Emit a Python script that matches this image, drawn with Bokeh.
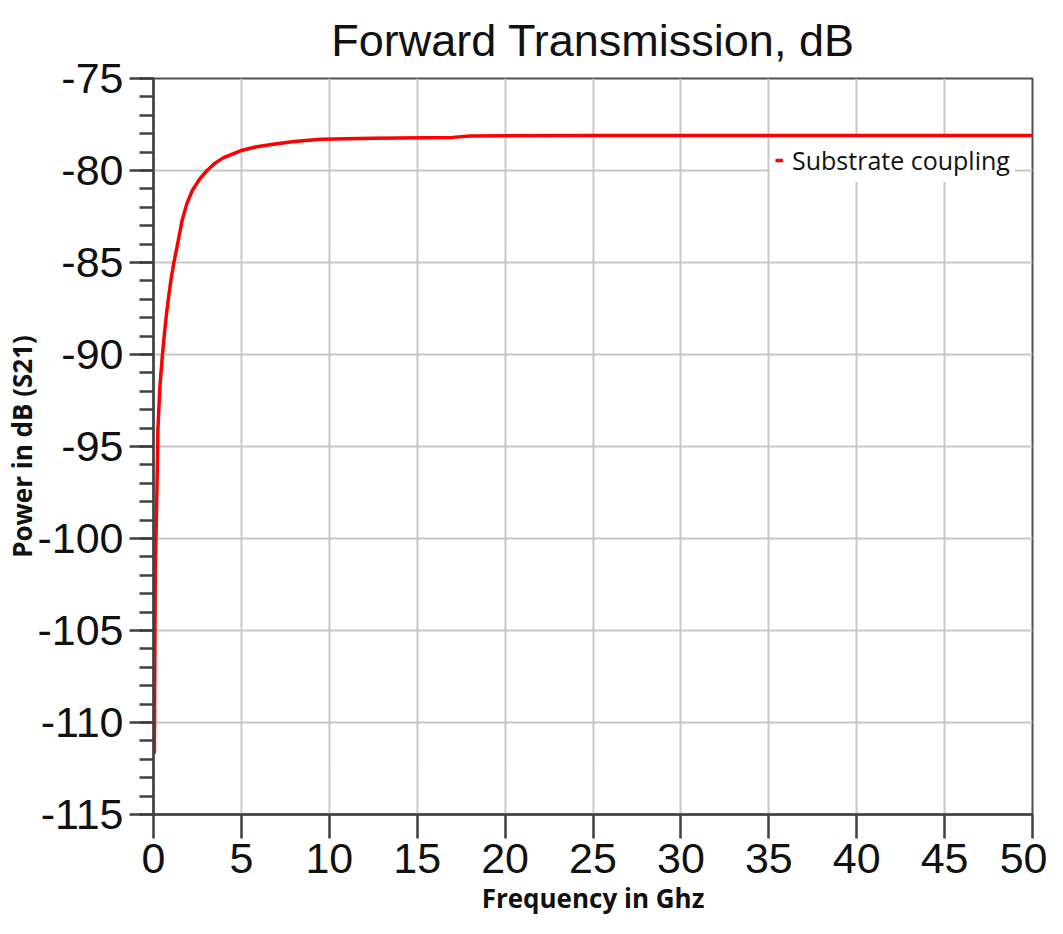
from bokeh.plotting import figure
from bokeh.models import Range1d, SingleIntervalTicker, Legend, LegendItem, PrintfTickFormatter
from bokeh.embed import file_html
from bokeh.resources import INLINE

# Data
freq_ghz = [0.05, 0.1, 0.2, 0.25, 0.36, 0.51, 0.63, 0.75, 0.87, 1.0, 1.16, 1.35, 1.63,
            1.9, 2.2, 2.6, 3.05, 3.5, 3.99, 4.95, 5.8, 6.8, 8.0, 9.5, 12.5, 17.0, 18.0,
            25.0, 35.0, 50.0]
s21_db = [-111.7, -102.0, -97.1, -94.1, -91.8, -90.0, -88.8, -87.7, -86.8, -85.9, -85.0,
          -84.1, -82.7, -81.8, -81.1, -80.5, -80.0, -79.6, -79.3, -78.93, -78.72, -78.57,
          -78.42, -78.3, -78.25, -78.2, -78.12, -78.1, -78.1, -78.1]
series_name = "Substrate coupling"
title_text = "Forward Transmission, dB"
x_label = "Frequency in Ghz"
y_label = "Power in dB (S21)"

p = figure(width=1047, height=918, output_backend="svg", toolbar_location=None,
           x_range=Range1d(0, 50), y_range=Range1d(-115, -75),
           min_border_left=153, min_border_right=15, min_border_top=78, min_border_bottom=100)

p.title.text = title_text
p.title.align = "center"
p.title.text_font = "Liberation Sans"
p.title.text_font_size = "45px"
p.title.text_font_style = "normal"
p.title.text_color = "#111111"
p.title.standoff = 25

axis_col = "#404040"
for ax in (p.xaxis[0], p.yaxis[0]):
    ax.axis_line_color = axis_col
    ax.axis_line_width = 2.5
    ax.major_tick_line_color = axis_col
    ax.major_tick_line_width = 2.5
    ax.minor_tick_line_color = axis_col
    ax.minor_tick_line_width = 2.5
    ax.major_tick_in = 0
    ax.major_tick_out = 24
    ax.minor_tick_in = 0
    ax.major_label_text_font = "Liberation Sans"
    ax.major_label_text_font_size = "43px"
    ax.major_label_text_color = "#111111"
    ax.axis_label_text_font = "Open Sans"
    ax.axis_label_text_font_style = "bold"
    ax.axis_label_text_font_size = "26px"
    ax.axis_label_text_color = "#111111"
    ax.formatter = PrintfTickFormatter(format="%d")

p.xaxis[0].ticker = SingleIntervalTicker(interval=5, num_minor_ticks=0)
p.xaxis[0].minor_tick_out = 0
p.xaxis[0].major_label_standoff = 5
p.xaxis[0].axis_label = x_label
p.xaxis[0].axis_label_standoff = 4

p.yaxis[0].ticker = SingleIntervalTicker(interval=5, num_minor_ticks=5)
p.yaxis[0].minor_tick_out = 14
p.yaxis[0].major_label_standoff = 6
p.yaxis[0].axis_label = y_label
p.yaxis[0].axis_label_standoff = -6

p.xgrid.grid_line_color = "#c8c8c8"
p.ygrid.grid_line_color = "#c8c8c8"
p.xgrid.grid_line_width = 2
p.ygrid.grid_line_width = 2
p.outline_line_color = "#505050"
p.outline_line_width = 2
p.background_fill_color = "white"
p.border_fill_color = "white"

r = p.line(freq_ghz, s21_db, line_color="#ff0000", line_width=3.5)

legend = Legend(items=[LegendItem(label=series_name, renderers=[r])],
                location=(617, 632))
legend.label_text_font = "Open Sans"
legend.label_text_font_size = "25px"
legend.label_text_color = "#111111"
legend.glyph_width = 8
legend.glyph_height = 20
legend.label_standoff = 9
legend.padding = 5
legend.spacing = 0
legend.margin = 0
legend.border_line_alpha = 0
legend.background_fill_color = "white"
legend.background_fill_alpha = 1.0
p.add_layout(legend, "center")

open("out.html", "w").write(file_html(p, INLINE))
